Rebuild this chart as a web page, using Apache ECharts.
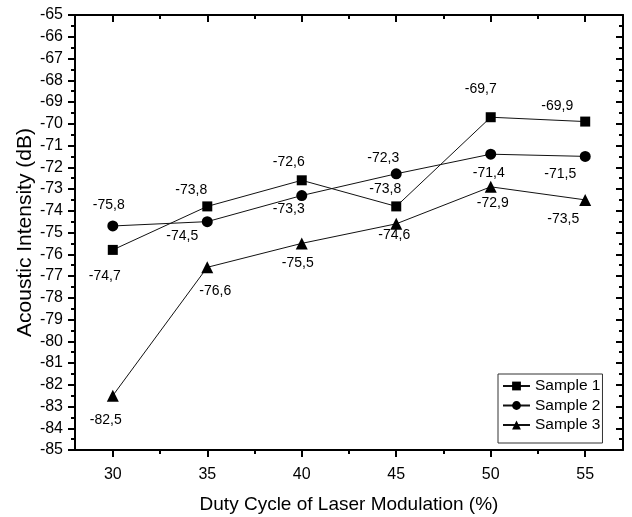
<!DOCTYPE html>
<html>
<head>
<meta charset="utf-8">
<script src="https://cdn.jsdelivr.net/npm/echarts@6/dist/echarts.min.js"></script>
<style>
html,body{margin:0;padding:0;background:#fff;}
#chart{width:632px;height:517px;}
</style>
</head>
<body>
<div id="chart"></div>
<script>
// ---- data ----
const dutyCycle = [30, 35, 40, 45, 50, 55];
const sample1 = [-75.8, -73.8, -72.6, -73.8, -69.7, -69.9];
const sample2 = [-74.7, -74.5, -73.3, -72.3, -71.4, -71.5];
const sample3 = [-82.5, -76.6, -75.5, -74.6, -72.9, -73.5];
const seriesNames = ['Sample 1', 'Sample 2', 'Sample 3'];
const xMajorTicks = [30, 35, 40, 45, 50, 55];
const xMinorTicks = [32.5, 37.5, 42.5, 47.5, 52.5];

// ---- label placement (style, separate from data) ----
const labelOffsets1 = [[-4,-45],[-16,-16],[-13,-18],[-11,-17],[-10,-28],[-28,-15]];
const labelOffsets2 = [[-8,50],[-25,15],[-13,14],[-13,-16],[-2,19],[-25,18]];
const labelOffsets3 = [[-7,25],[8,24],[-4,20],[-2,11],[2,16],[-22,19]];

const FONT = '"Liberation Sans", Arial, sans-serif';
const BLACK = '#000';

function buildData(vals, offs) {
  return dutyCycle.map((x, i) => ({ value: [x, vals[i]], label: { offset: offs[i] } }));
}
function makeSeries(name, vals, offs, symbol, size) {
  return {
    name: name, type: 'line', xAxisIndex: 0, yAxisIndex: 0,
    data: buildData(vals, offs),
    symbol: symbol, symbolSize: size,
    lineStyle: { color: '#111', width: 1 },
    itemStyle: { color: BLACK },
    label: {
      show: true, position: 'inside', color: BLACK, fontSize: 14, fontFamily: FONT,
      formatter: p => String(p.value[1]).replace('.', ',')
    },
    emphasis: { disabled: true },
    animation: false, z: 3
  };
}

const axisLineStyle = { show: true, lineStyle: { color: BLACK, width: 2 } };
function xAxisCfg(pos, ticks, len, inside, withLine, withLabels) {
  return {
    type: 'value', position: pos, min: 28, max: 57,
    axisLine: withLine ? axisLineStyle : { show: false },
    axisTick: { show: true, customValues: ticks, length: len, inside: inside, lineStyle: { color: BLACK, width: 2 } },
    axisLabel: withLabels ? { show: true, customValues: xMajorTicks, fontSize: 16, color: BLACK, fontFamily: FONT, margin: 17 } : { show: false },
    splitLine: { show: false }
  };
}

const chart = echarts.init(document.getElementById('chart'), null, { renderer: 'canvas' });
const bottomMain = xAxisCfg('bottom', xMajorTicks, 7, false, true, true);
bottomMain.name = 'Duty Cycle of Laser Modulation (%)';
bottomMain.nameLocation = 'middle';
bottomMain.nameGap = 45;
bottomMain.nameMoveOverlap = false;
bottomMain.nameTextStyle = { fontSize: 19, color: BLACK, fontFamily: FONT };

chart.setOption({
  backgroundColor: '#fff',
  animation: false,
  grid: { left: 75, right: 9, top: 15, bottom: 67, containLabel: false, outerBoundsMode: 'none' },
  xAxis: [
    bottomMain,
    xAxisCfg('bottom', xMinorTicks, 4, false, false, false),
    xAxisCfg('top', xMajorTicks, 7, true, true, false),
    xAxisCfg('top', xMinorTicks, 4, true, false, false)
  ],
  yAxis: [
    {
      type: 'value', position: 'left', min: -85, max: -65, interval: 1,
      axisLine: axisLineStyle,
      axisTick: { show: true, length: 7, inside: false, lineStyle: { color: BLACK, width: 2 } },
      minorTick: { show: true, splitNumber: 2, length: 4, lineStyle: { color: BLACK, width: 2 } },
      axisLabel: { fontSize: 16, color: BLACK, fontFamily: FONT, margin: 12 },
      splitLine: { show: false },
      name: 'Acoustic Intensity (dB)', nameLocation: 'middle', nameGap: 39,
      nameMoveOverlap: false,
      nameTextStyle: { fontSize: 21, color: BLACK, fontFamily: FONT }
    },
    {
      type: 'value', position: 'right', min: -85, max: -65, interval: 1,
      axisLine: axisLineStyle,
      axisTick: { show: true, length: 7, inside: true, lineStyle: { color: BLACK, width: 2 } },
      minorTick: { show: true, splitNumber: 2, length: 4, lineStyle: { color: BLACK, width: 2 } },
      axisLabel: { show: false },
      splitLine: { show: false }
    }
  ],
  legend: {
    orient: 'vertical', left: 498, top: 374,
    data: seriesNames,
    itemWidth: 27, itemHeight: 11, itemGap: 3.5,
    padding: [4, 2, 10, 4],
    borderColor: '#333', borderWidth: 1,
    textStyle: { fontSize: 15.5, lineHeight: 16, color: BLACK, fontFamily: FONT },
    selectedMode: false
  },
  series: [
    makeSeries(seriesNames[0], sample1, labelOffsets1, 'rect', 10),
    makeSeries(seriesNames[1], sample2, labelOffsets2, 'circle', 11),
    makeSeries(seriesNames[2], sample3, labelOffsets3, 'triangle', 12)
  ]
});
</script>
</body>
</html>
